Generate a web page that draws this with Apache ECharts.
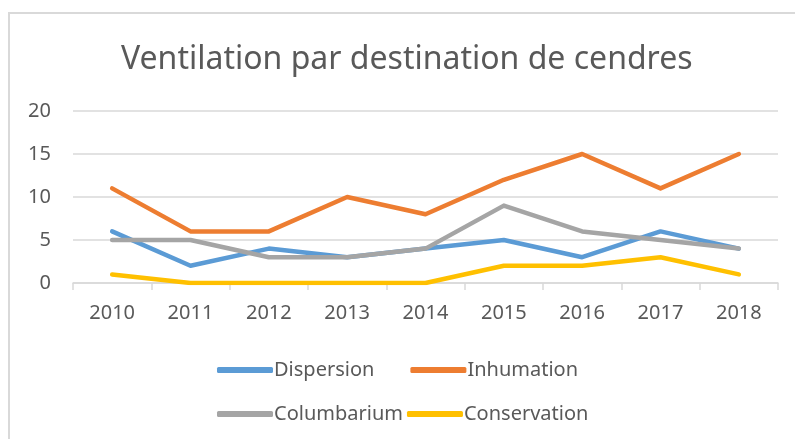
<!DOCTYPE html>
<html>
<head>
<meta charset="utf-8">
<script src="https://cdn.jsdelivr.net/npm/echarts@6/dist/echarts.min.js"></script>
<style>
  html, body { margin: 0; padding: 0; background: #fff; overflow: hidden; }
  #frame {
    position: absolute; left: 8px; top: 12px; width: 900px; height: 500px;
    border-top: 2px solid #d9d9d9; border-left: 2px solid #d9d9d9;
  }
  #chart { position: absolute; left: 0; top: 0; width: 795px; height: 439px; }
</style>
</head>
<body>
<div id="frame"></div>
<div id="chart"></div>
<script>
const years = ['2010', '2011', '2012', '2013', '2014', '2015', '2016', '2017', '2018']
const dispersion = [6, 2, 4, 3, 4, 5, 3, 6, 4]
const inhumation = [11, 6, 6, 10, 8, 12, 15, 11, 15]
const columbarium = [5, 5, 3, 3, 4, 9, 6, 5, 4]
const conservation = [1, 0, 0, 0, 0, 2, 2, 3, 1]

const font = 'Noto Sans'
const textColor = '#595959'

const chart = echarts.init(document.getElementById('chart'))

const makeSeries = (name, data, color) => ({
  name,
  type: 'line',
  data,
  symbol: 'none',
  lineStyle: { width: 4.5, color, cap: 'round', join: 'round' },
  itemStyle: { color }
})

const legendBase = {
  left: 212,
  itemWidth: 56,
  itemHeight: 6,
  icon: 'roundRect',
  textStyle: { fontFamily: font, fontSize: 20, color: textColor, padding: [0, 0, 0, -4] }
}

chart.setOption({
  animation: false,
  title: {
    text: 'Ventilation par destination de cendres',
    left: 116,
    top: 39,
    textStyle: { fontFamily: font, fontSize: 32, fontWeight: 'normal', color: textColor }
  },
  legend: [
    Object.assign({}, legendBase, { top: 355, itemGap: 36, data: ['Dispersion', 'Inhumation'] }),
    Object.assign({}, legendBase, { top: 399, itemGap: 4, data: ['Columbarium', 'Conservation'] })
  ],
  grid: { left: 73, right: 17, top: 111, bottom: 156 },
  xAxis: {
    type: 'category',
    data: years,
    boundaryGap: true,
    axisLine: { lineStyle: { color: '#d9d9d9', width: 1.5 } },
    axisTick: { show: true, length: 7, lineStyle: { color: '#d9d9d9', width: 1.5 } },
    axisLabel: { fontFamily: font, fontSize: 20, color: textColor, margin: 20 }
  },
  yAxis: {
    type: 'value',
    min: 0,
    max: 20,
    interval: 5,
    axisLine: { show: false },
    axisTick: { show: false },
    splitLine: { lineStyle: { color: '#d9d9d9', width: 1.5 } },
    axisLabel: { fontFamily: font, fontSize: 20, color: textColor, margin: 22 }
  },
  series: [
    makeSeries('Dispersion', dispersion, '#5B9BD5'),
    makeSeries('Inhumation', inhumation, '#ED7D31'),
    makeSeries('Columbarium', columbarium, '#A5A5A5'),
    makeSeries('Conservation', conservation, '#FFC000')
  ]
})
</script>
</body>
</html>
